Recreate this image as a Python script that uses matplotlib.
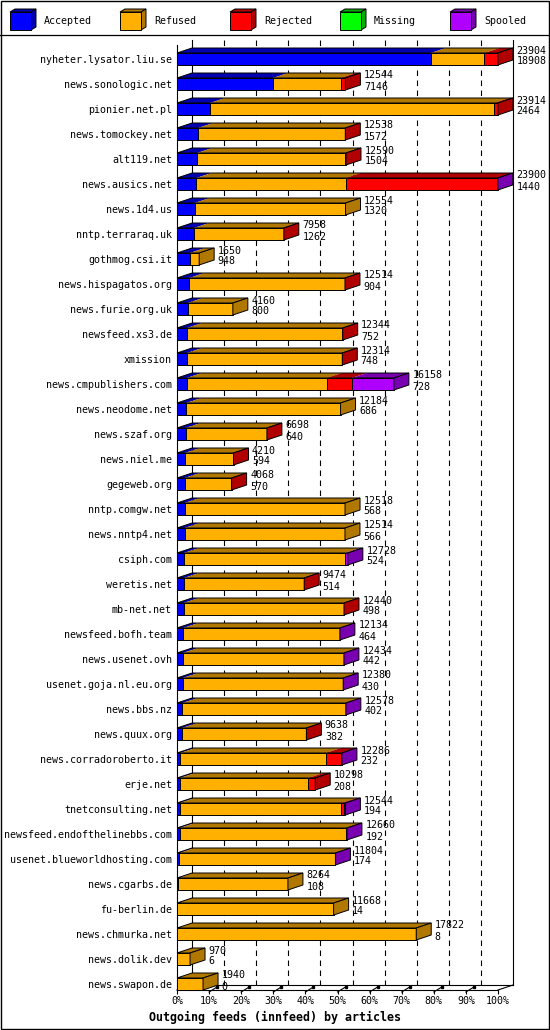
import numpy as np
import matplotlib
matplotlib.use('Agg')
import matplotlib.pyplot as plt
from matplotlib.patches import Polygon, Rectangle

# feed names, top to bottom
hosts = ['nyheter.lysator.liu.se', 'news.sonologic.net', 'pionier.net.pl',
         'news.tomockey.net', 'alt119.net', 'news.ausics.net', 'news.1d4.us',
         'nntp.terraraq.uk', 'gothmog.csi.it', 'news.hispagatos.org',
         'news.furie.org.uk', 'newsfeed.xs3.de', 'xmission',
         'news.cmpublishers.com', 'news.neodome.net', 'news.szaf.org',
         'news.niel.me', 'gegeweb.org', 'nntp.comgw.net', 'news.nntp4.net',
         'csiph.com', 'weretis.net', 'mb-net.net', 'newsfeed.bofh.team',
         'news.usenet.ovh', 'usenet.goja.nl.eu.org', 'news.bbs.nz',
         'news.quux.org', 'news.corradoroberto.it', 'erje.net',
         'tnetconsulting.net', 'newsfeed.endofthelinebbs.com',
         'usenet.blueworldhosting.com', 'news.cgarbs.de', 'fu-berlin.de',
         'news.chmurka.net', 'news.dolik.dev', 'news.swapon.de']

offered = [23904, 12544, 23914, 12538, 12590, 23900, 12554, 7958, 1650, 12514,
           4160, 12344, 12314, 16158, 12184, 6698, 4210, 4068, 12518, 12514,
           12728, 9474, 12440, 12134, 12434, 12380, 12578, 9638, 12286, 10298,
           12544, 12660, 11804, 8264, 11668, 17822, 970, 1940]
accepted = [18908, 7146, 2464, 1572, 1504, 1440, 1320, 1262, 948, 904,
            800, 752, 748, 728, 686, 640, 594, 570, 568, 566,
            524, 514, 498, 464, 442, 430, 402, 382, 232, 208,
            194, 192, 174, 108, 14, 8, 6, 0]
refused = [4000, 5050, 21150, 10926, 11046, 11130, 11234, 6676, 702, 11580,
           3360, 11532, 11526, 10423, 11498, 6038, 3596, 3478, 11950, 11948,
           12004, 8940, 11922, 11660, 11982, 11940, 12166, 9236, 10847, 9573,
           12050, 12388, 11620, 8156, 11654, 17814, 964, 1940]
rejected = [996, 348, 300, 40, 40, 11324, 0, 20, 0, 30,
            0, 60, 40, 1862, 0, 20, 20, 20, 0, 0,
            0, 20, 20, 0, 0, 0, 0, 20, 1140, 517,
            200, 0, 0, 0, 0, 0, 0, 0]
missing = [0] * 38
spooled = [0, 0, 0, 0, 0, 6, 0, 0, 0, 0,
           0, 0, 0, 3145, 0, 0, 0, 0, 0, 0,
           200, 0, 0, 10, 10, 10, 10, 0, 67, 0,
           100, 80, 10, 0, 0, 0, 0, 0]

series = ['Accepted', 'Refused', 'Rejected', 'Missing', 'Spooled']
front_col = ['#0000ff', '#ffb000', '#ff0000', '#00ff00', '#b000ff']
dark_col = ['#0000b0', '#b07800', '#b00000', '#00b000', '#7800b0']

title = 'Outgoing feeds (innfeed) by articles'
mono = 'DejaVu Sans Mono'
fs = 7.2

W, H = 550, 1030
fig = plt.figure(figsize=(W / 100, H / 100), dpi=100)

# decoration layer in pixel coords: border, legend
frame = fig.add_axes([0, 0, 1, 1], zorder=0)
frame.set_xlim(0, W)
frame.set_ylim(H, 0)
frame.axis('off')
frame.add_patch(Rectangle((0.5, 0.5), W - 1.5, H - 1.5, fill=False, ec='black', lw=1))
frame.plot([0, W], [35, 35], color='black', lw=0.9)
for k, name in enumerate(series):
    bx = 10 + 110 * k
    frame.add_patch(Polygon([(bx, 12), (bx + 21, 12), (bx + 26, 9), (bx + 5, 9)],
                            fc=dark_col[k], ec='black', lw=0.7))
    frame.add_patch(Polygon([(bx + 21, 12), (bx + 26, 9), (bx + 26, 27), (bx + 21, 30)],
                            fc=dark_col[k], ec='black', lw=0.7))
    frame.add_patch(Rectangle((bx, 12), 21, 18, fc=front_col[k], ec='black', lw=0.7))
    frame.text(bx + 34, 20.5, name, fontsize=fs, family=mono, va='center', ha='left')
frame.text(W / 2, 1017, title, fontsize=8.4, family=mono, weight='bold',
           ha='center', va='center')

# main chart: front plane spans x 177..498 px, y 45..990 px
x0p, x1p, y0p, y1p = 177, 498, 45, 990
ax = fig.add_axes([x0p / W, 1 - y1p / H, (x1p - x0p) / W, (y1p - y0p) / H], zorder=1)
ax.set_facecolor('none')
n = len(hosts)
rows = np.arange(n)
xmax = max(offered)
ax.set_xlim(0, xmax)
ax.set_ylim((y1p - 59) / 25, (y0p - 59) / 25)

px = xmax / (x1p - x0p)   # articles per pixel
py = 1 / 25               # rows per pixel
DX, DY = 15 * px, 5 * py
half = 6 * py

# back plane grid
yb_top = (40 - 59) / 25
yb_bot = (985 - 59) / 25
for k in range(11):
    xg = k * xmax / 10 + DX
    if k in (0, 10):
        ax.plot([xg, xg], [yb_top, yb_bot], color='black', lw=0.8, clip_on=False, zorder=1)
    else:
        ax.plot([xg, xg], [yb_top, yb_bot], color='black', lw=0.8, dashes=(5, 4),
                clip_on=False, zorder=1)
ylim_bot = ax.get_ylim()[0]
ax.plot([DX, xmax + DX], [yb_bot, yb_bot], color='black', lw=0.8, clip_on=False, zorder=1)
ax.plot([0, DX], [ylim_bot, yb_bot], color='black', lw=0.8, clip_on=False, zorder=1)
ax.plot([xmax, xmax + DX], [ylim_bot, yb_bot], color='black', lw=0.8, clip_on=False, zorder=1)
for k in range(1, 10):
    xt = k * xmax / 10
    ax.plot([xt, xt + 8 * px], [ylim_bot + 2 * py, ylim_bot - 3 * py], color='black',
            lw=0.8, clip_on=False, zorder=1)
    ax.plot([xt + 8 * px], [ylim_bot - 3.5 * py], marker='s', ms=1.8, color='black',
            clip_on=False, zorder=1)

# bars
data = np.array([accepted, refused, rejected, missing, spooled])
for i in range(n):
    yt, yb = i - half, i + half
    left = 0
    last = 0
    for s in range(len(series)):
        w = data[s, i]
        if w <= 0:
            continue
        ax.add_patch(Polygon([(left, yt), (left + w, yt), (left + w + DX, yt - DY),
                              (left + DX, yt - DY)], fc=dark_col[s], ec='none',
                             clip_on=False, zorder=3))
        ax.add_patch(Rectangle((left, yt), w, yb - yt, fc=front_col[s], ec='black',
                               lw=0.7, clip_on=False, zorder=4))
        left += w
        last = s
    end = offered[i]
    ax.add_patch(Polygon([(0, yt), (end, yt), (end + DX, yt - DY), (DX, yt - DY)],
                         fill=False, ec='black', lw=0.7, clip_on=False, zorder=4))
    ax.add_patch(Polygon([(end, yt), (end + DX, yt - DY), (end + DX, yb - DY), (end, yb)],
                         fc=dark_col[last], ec='black', lw=0.7, clip_on=False, zorder=4))
    ax.annotate(str(offered[i]), xy=(end, i), xytext=(18.5 * 0.72, 8.5 * 0.72),
                textcoords='offset points', fontsize=fs, family=mono,
                va='center', ha='left', annotation_clip=False, zorder=5)
    ax.annotate(str(accepted[i]), xy=(end, i), xytext=(18.5 * 0.72, -2.5 * 0.72),
                textcoords='offset points', fontsize=fs, family=mono,
                va='center', ha='left', annotation_clip=False, zorder=5)

# axes: front left line and front floor line
for side in ('top', 'right'):
    ax.spines[side].set_visible(False)
ax.spines['left'].set_linewidth(0.8)
ax.spines['bottom'].set_linewidth(0.8)
ax.set_yticks(rows)
ax.set_yticklabels(hosts, fontsize=fs, family=mono)
ax.tick_params(axis='y', length=0, pad=3.6)
ax.set_xticks(np.arange(11) * xmax / 10)
ax.set_xticklabels([f'{p}%' for p in range(0, 101, 10)], fontsize=fs, family=mono)
ax.tick_params(axis='x', length=3, width=0.8, pad=1.5)

fig.savefig('out.png', dpi=100)
